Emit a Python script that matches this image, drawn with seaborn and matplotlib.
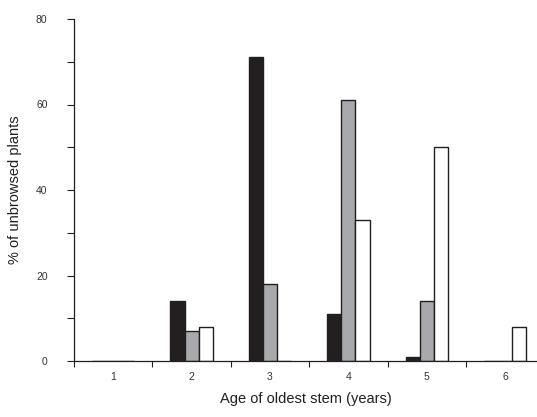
import numpy as np
import pandas as pd
import matplotlib
matplotlib.use('Agg')
import matplotlib.pyplot as plt
import seaborn as sns

ages = ['1', '2', '3', '4', '5', '6']
series_names = ['black', 'grey', 'white']
black_vals = [0, 14, 71, 11, 1, 0]
grey_vals = [0, 7, 18, 61, 14, 0]
white_vals = [0, 8, 0, 33, 50, 8]
y_ticks = [0, 20, 40, 60, 80]

df = pd.DataFrame({
    'age': ages * 3,
    'group': [s for s in series_names for _ in ages],
    'pct': black_vals + grey_vals + white_vals,
})

sns.set_style('ticks')
plt.rcParams['font.family'] = ['Liberation Sans', 'DejaVu Sans']

fig = plt.figure(figsize=(5.37, 4.17), dpi=100)
ax = fig.add_axes([74 / 537, 56 / 417, 463 / 537, 342 / 417])

palette = {'black': '#231f20', 'grey': '#a7a9ac', 'white': '#ffffff'}
sns.barplot(data=df, x='age', y='pct', hue='group', order=ages,
            hue_order=series_names, palette=palette, width=0.54,
            edgecolor='#231f20', linewidth=1.0, saturation=1,
            legend=False, ax=ax)

ax.set_xlim(-0.5, -0.5 + 463 / 78.4)
ax.set_ylim(0, 80)
ax.set_yticks(y_ticks)
ax.set_yticks([10, 30, 50, 70], minor=True)
ax.set_xticks(range(len(ages)))
ax.set_xticklabels(ages)
ax.set_xticks(np.arange(len(ages)) - 0.5, minor=True)
ax.tick_params(axis='x', which='major', length=0, pad=8, labelsize=7.5, colors='#333333')
ax.tick_params(axis='x', which='minor', length=4.5, width=0.8, color='#231f20')
ax.tick_params(axis='y', which='both', length=5, width=0.8, color='#231f20')
ax.tick_params(axis='y', which='major', labelsize=7.5, labelcolor='#333333', pad=14)

sns.despine(ax=ax)
for s in ['left', 'bottom']:
    ax.spines[s].set_linewidth(0.9)
    ax.spines[s].set_color('#231f20')

ax.set_xlabel('Age of oldest stem (years)', fontsize=10.5, labelpad=7, color='#231f20')
ax.set_ylabel('% of unbrowsed plants', fontsize=10.5, labelpad=10, color='#231f20')

fig.savefig('out.png', dpi=100)
